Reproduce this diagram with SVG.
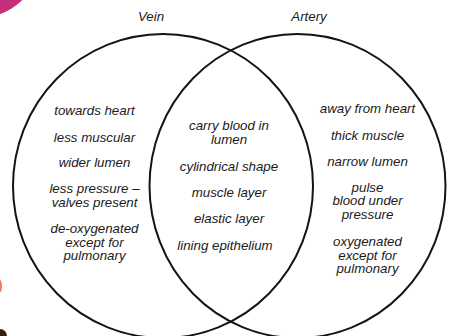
<svg xmlns="http://www.w3.org/2000/svg" width="450" height="336" viewBox="0 0 450 336">
<style>
.c{fill:none;stroke:#141414;stroke-width:2}
text{font-family:"Liberation Sans",Arial,sans-serif;font-style:italic;font-size:13.3px;fill:#1a1a1a;text-anchor:middle}
</style>
<rect width="450" height="336" fill="#ffffff"/>
<ellipse cx="-22" cy="-42" rx="62" ry="60" fill="#c52f78"/>
<ellipse cx="-1" cy="286" rx="3" ry="7" fill="#f07a66"/>
<ellipse cx="0" cy="336" rx="7" ry="7" fill="#3a1a12"/>
<g id="connectors"></g>
<g id="vein">
<ellipse class="c" cx="163" cy="186" rx="150" ry="152"/>
<text x="151" y="21">Vein</text>
<text x="94.5" y="115">towards heart</text>
<text x="94.5" y="141.5">less muscular</text>
<text x="94.5" y="167">wider lumen</text>
<text x="94.5" y="192.5">less pressure –</text>
<text x="94.5" y="206.5">valves present</text>
<text x="94.5" y="233">de-oxygenated</text>
<text x="94.5" y="246.5">except for</text>
<text x="94.5" y="260">pulmonary</text>
</g>
<g id="artery">
<ellipse class="c" cx="297.5" cy="186" rx="148" ry="152"/>
<text x="309" y="21">Artery</text>
<text x="367.5" y="113">away from heart</text>
<text x="367.5" y="140">thick muscle</text>
<text x="367.5" y="166">narrow lumen</text>
<text x="367.5" y="191.5">pulse</text>
<text x="367.5" y="205">blood under</text>
<text x="367.5" y="218.5">pressure</text>
<text x="367.5" y="246">oxygenated</text>
<text x="367.5" y="259.5">except for</text>
<text x="367.5" y="273">pulmonary</text>
</g>
<g id="both">
<text x="229" y="130">carry blood in</text>
<text x="229" y="144">lumen</text>
<text x="229" y="170.5">cylindrical shape</text>
<text x="229" y="196.5">muscle layer</text>
<text x="229" y="222.5">elastic layer</text>
<text x="225" y="250">lining epithelium</text>
</g>
</svg>
